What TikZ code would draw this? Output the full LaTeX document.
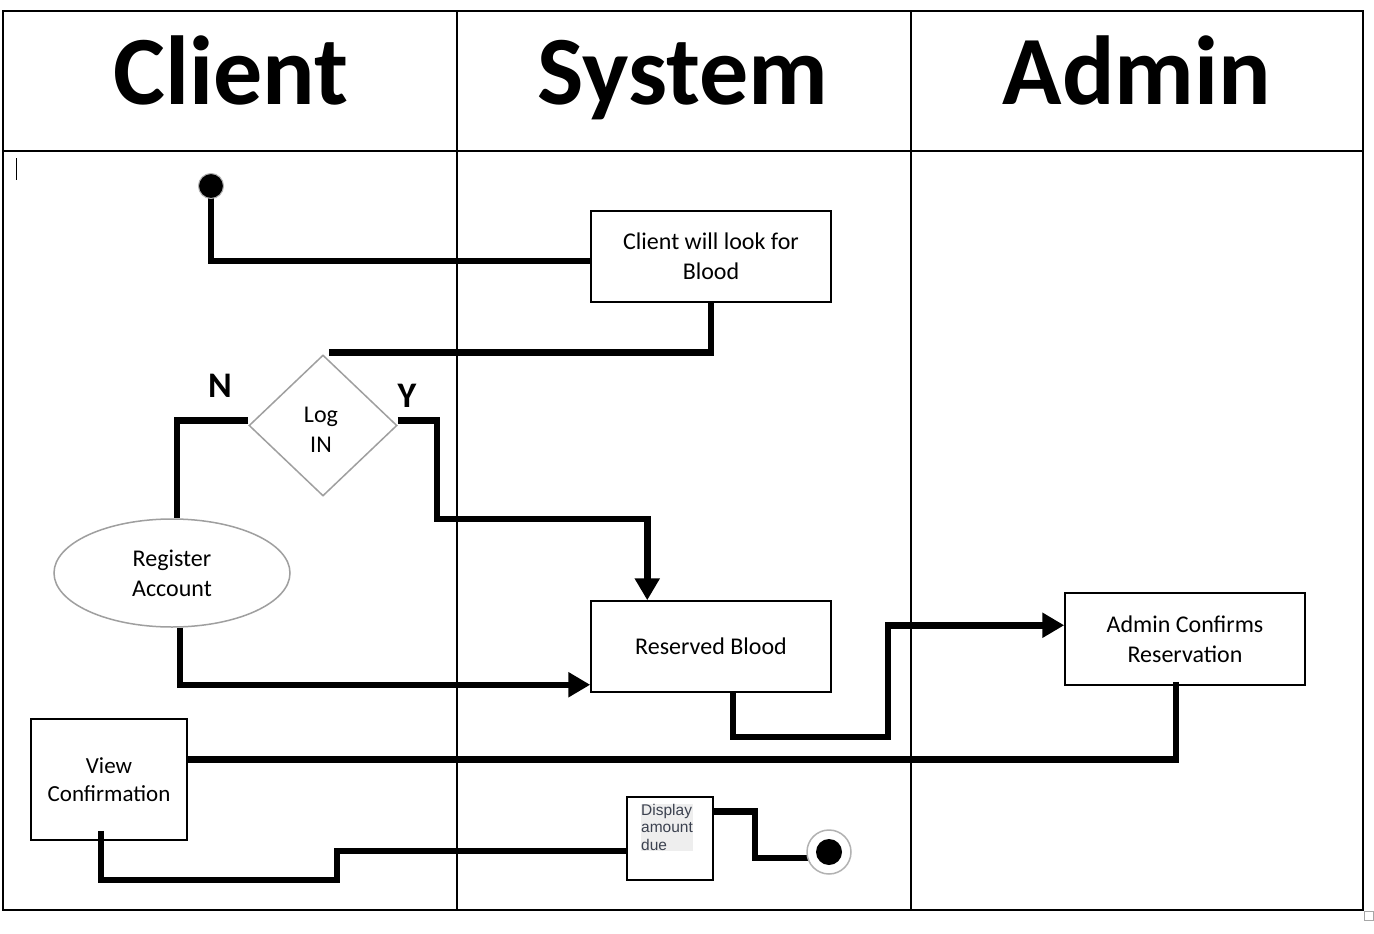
\documentclass[tikz,border=0pt]{standalone}
\usepackage{fontspec}
\setmainfont{Carlito}
\newfontfamily\arialf{Liberation Sans}
\usetikzlibrary{shapes.geometric,arrows.meta,calc}
\definecolor{dispgray}{HTML}{3C4250}
\definecolor{hlgray}{HTML}{EEEEEE}
\begin{document}
\begin{tikzpicture}[x=1pt,y=-1pt,
  grid/.style={line width=1.6pt},
  head/.style={font=\fontsize{98}{110}\selectfont\bfseries, anchor=base},
  actbox/.style={draw, line width=1.5pt, rectangle, inner sep=0pt, align=center, font=\fontsize{24}{30}\selectfont},
  flow/.style={line width=6.5pt, line join=miter},
  arr/.style={flow, -{Triangle[length=22pt,width=24pt]}},
  lbl/.style={font=\fontsize{36}{36}\selectfont\bfseries}
]
\useasboundingbox (0,0) rectangle (1374,934);
\fill[white] (0,0) rectangle (1374,934);
% table
\draw[grid] (3,11) rectangle (1363,910);
\draw[grid] (3,151) -- (1363,151);
\draw[grid] (457,11) -- (457,910);
\draw[grid] (911,11) -- (911,910);
\draw[line width=1pt] (16,158) -- (16,180);
\draw[gray!70, line width=1pt, fill=white] (1364,911) rectangle (1373,920);
% headers
\node[head] (hc) at (231,104) {Client};
\node[head] (hs) at (683,104) {System};
\node[head] (ha) at (1137,104) {Admin};
% nodes
\node[actbox, minimum width=240pt, minimum height=91pt] (look) at (711,256.5) {Client will look for\\Blood};
\node[draw=gray!75, line width=1.5pt, diamond, minimum width=148pt, minimum height=141pt, inner sep=0pt] (login) at (323,425.5) {};
\node[align=center, inner sep=0pt, font=\fontsize{24}{30}\selectfont] (logtxt) at (321,430) {Log\\IN};
\node[draw=gray!75, line width=1.5pt, ellipse, minimum width=236pt, minimum height=108pt, inner sep=0pt, align=center, font=\fontsize{24}{30}\selectfont] (reg) at (172,573) {Register\\Account};
\node[actbox, minimum width=240pt, minimum height=91pt] (res) at (711,646.5) {Reserved Blood};
\node[actbox, minimum width=240pt, minimum height=92pt] (adm) at (1185,639) {Admin Confirms\\Reservation};
\node[actbox, minimum width=156pt, minimum height=121pt, font=\fontsize{23}{28}\selectfont] (view) at (109,779.5) {View\\Confirmation};
\node[draw, line width=1.5pt, rectangle, minimum width=86pt, minimum height=83pt, inner sep=0pt] (disp) at (670,838.5) {};
\node[fill=hlgray, inner sep=0pt, anchor=north west, align=left, text=dispgray, font=\arialf\fontsize{15.5}{17.5}\selectfont] (disptxt) at (641,804) {Display\\amount\\due};
\node[lbl] (nlab) at (220,386) {N};
\node[lbl] (ylab) at (407,396) {Y};
% connectors
\coordinate (ybend) at (437,519);
\coordinate (rbend) at (888,737);
\coordinate (vbend) at (337,880);
\coordinate (dbend) at (755,812);
\draw[flow] (211,186) coordinate (st0) |- (look.west |- 0,261);
\draw[flow] (look.south) |- ($(login.north)+(6,-2)$);
\draw[flow] ($(login.west)+(0,-5)$) -| ($(reg.north)+(5,0)$);
\draw[arr] ($(reg.south)+(8,0)$) |- ($(res.south west)+(0,-8)$);
\draw[arr] ($(login.east)+(0,-5)$) -| (ybend) -| ($(res.north west)+(57,0)$);
\draw[arr] ($(res.south)+(22,0)$) |- (rbend) |- ($(adm.north west)+(0,33)$);
\draw[flow] ($(adm.south)+(-9,-4)$) |- ($(view.north east)+(0,41)$);
\draw[flow] ($(view.south)+(-8,-10)$) |- (vbend) |- ($(disp.south west)+(0,-30)$);
\draw[flow] ($(disp.north east)+(0,15)$) -| (dbend) |- ($(disp.east)+(95,19.5)$) coordinate (endw);
% start and end
\node[circle, fill=black, draw=gray!60, line width=1pt, minimum size=25pt, inner sep=0pt] (start) at (211,186) {};
\node[circle, draw=gray!60, fill=white, line width=1.5pt, minimum size=44pt, inner sep=0pt] (endo) at (829,852) {};
\node[circle, fill=black, minimum size=26pt, inner sep=0pt] (endi) at (endo) {};
\end{tikzpicture}
\end{document}
